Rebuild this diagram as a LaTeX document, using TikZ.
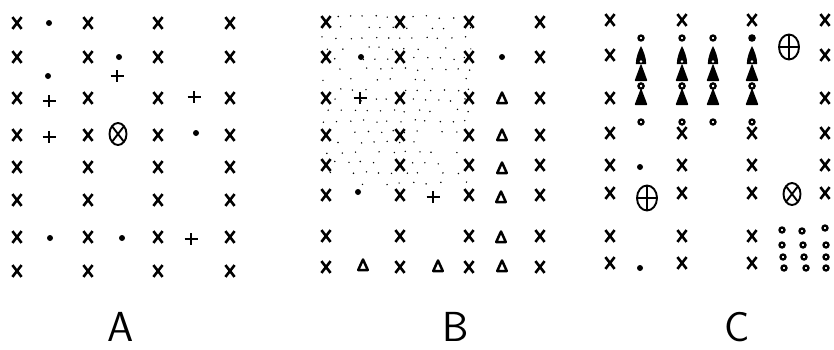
\documentclass[tikz,border=0pt]{standalone}
\usetikzlibrary{calc}
\begin{document}
\begin{tikzpicture}[x=1pt,y=-1pt,
  xx/.pic={\draw[line width=2.6pt] (-4.6,-5.9)--(4.6,5.9) (-4.6,5.9)--(4.6,-5.9);},
  pl/.pic={\draw[line width=2.6pt] (-6.5,0)--(6.5,0) (0,-6)--(0,6);},
  dt/.pic={\fill (0,0) circle (3pt);},
  otm/.pic={\draw[line width=1.9pt] (0,0) ellipse [x radius=8.5pt, y radius=11pt];
            \draw[line width=1.9pt] (-6,-7.8)--(6,7.8) (-6,7.8)--(6,-7.8);},
  opl/.pic={\draw[line width=1.9pt] (0,0) ellipse [x radius=10pt, y radius=12.5pt];
            \draw[line width=1.9pt] (-10,0)--(10,0) (0,-12.5)--(0,12.5);},
  tri/.pic={\draw[line width=2.5pt,line join=round] (0,-5.5)--(4.8,5)--(-4.8,5)--cycle;},
  rng/.pic={\draw[line width=2.3pt] (0,0) circle (2.5pt);},
  bigdot/.pic={\fill (0,0) circle (3.8pt);},
  stk/.pic={
    \fill (0,46) .. controls (2,50) and (5.2,57) .. (5.2,64) -- (-5.2,64) .. controls (-5.2,57) and (-2,50) .. (0,46) -- cycle;
    \fill[white] (0,61.5) circle (1.4pt);
    \fill[rounded corners=0.8pt] (0,63.5) -- (6.5,81) -- (-6.5,81) -- cycle;
    \draw[line width=2.3pt] (0,86) circle (2.6pt);
    \fill[rounded corners=0.8pt] (0,88) -- (6.5,105) -- (-6.5,105) -- cycle;},
  lab/.style={font=\fontsize{42}{46}\selectfont\sffamily, anchor=base, inner sep=0pt}
]
\useasboundingbox (0,0) rectangle (834,349);

% ---------------- Panel A ----------------
\foreach \x in {17,88,158,230}
  \foreach \y in {23,57,98,135,167,200,237,271}
    \pic at (\x,\y) {xx};
\pic at (49,23) {dt};
\pic at (119,57) {dt};
\pic at (48,76) {dt};
\pic at (117,76) {pl};
\pic at (49,101) {pl};
\pic at (194,97) {pl};
\pic at (49,137) {pl};
\pic at (118,134) {otm};
\pic at (196,133) {dt};
\pic at (50,238) {dt};
\pic at (122,238) {dt};
\pic at (191,239) {pl};
\node[lab] (labA) at (121,341) {A};

% ---------------- Panel B ----------------
\begin{scope}
\clip[rounded corners=18pt] (321,11) rectangle (471,189);
\pgfmathsetseed{3}
\foreach \j in {0,...,16}{
  \foreach \i in {0,...,11}{
    \pgfmathsetmacro{\px}{324+12.8*\i+5*mod(\j,2)+2.2*rand}
    \pgfmathsetmacro{\py}{17+10.4*\j+1.3*rand}
    \pgfmathsetmacro{\rr}{rnd}
    \ifdim\rr pt>0.25pt \fill (\px,\py) circle (0.8pt);\fi
  }
}
\end{scope}
\foreach \x in {326,400,469,540}
  \foreach \y in {22,57,98,135,165,195,236,267}
    \pic at (\x,\y) {xx};
\pic at (361,57) {dt};
\pic at (502,57) {dt};
\pic at (360,98) {pl};
\pic at (502,98) {tri};
\pic at (502,135) {tri};
\pic at (502,168) {tri};
\pic at (358,192) {dt};
\pic at (433,197) {pl};
\pic at (501,197) {tri};
\pic at (501,237) {tri};
\pic at (363,265) {tri};
\pic at (438,266) {tri};
\pic at (502,266) {tri};
\node[lab] (labB) at (456,341) {B};

% ---------------- Panel C ----------------
\foreach \y in {20,55,98,133,165,193,236,263}
  \pic at (610,\y) {xx};
\foreach \y in {20,55,98,133,165,193}
  \pic at (825,\y) {xx};
\foreach \x in {682,752}
  \foreach \y in {20,133,165,193,236,263}
    \pic at (\x,\y) {xx};
\foreach \x in {641,682,713}
  \pic at (\x,38) {rng};
\pic at (752,38) {bigdot};
\foreach \x in {641,682,713,752}{
  \pic at (\x,0) {stk};
  \pic at (\x,122) {rng};
}
\pic at (789,47) {opl};
\pic at (640,167) {dt};
\pic at (647,198) {opl};
\pic at (792,194) {otm};
\pic at (640,268) {dt};
\foreach \x/\y in {782/230,802/231,825/228,
                   782/245,803/245,826/245,
                   783/257,804/257,826/257,
                   784/268,806/268,826/268}
  \pic at (\x,\y) {rng};
\node[lab] (labC) at (737,341) {C};
\end{tikzpicture}
\end{document}
